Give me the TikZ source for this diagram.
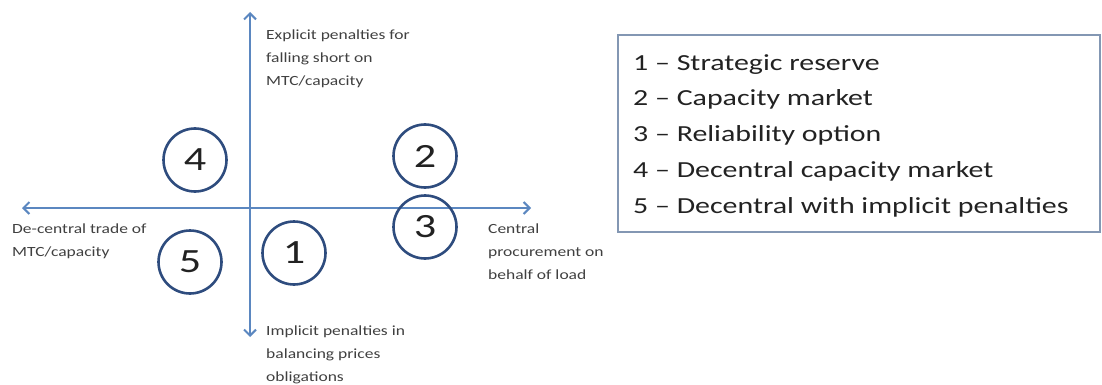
\documentclass[tikz,border=0pt]{standalone}
\usepackage{fontspec}
\setmainfont{Carlito}
\newfontfamily\widefont[FakeStretch=1.3,Ligatures=TeX]{Carlito}
\newfontfamily\labelfont[FakeStretch=1.25,Ligatures=TeX]{Carlito}
\usetikzlibrary{arrows.meta}
\definecolor{axisblue}{HTML}{5B87C0}
\definecolor{ringblue}{HTML}{2E4C7E}
\definecolor{boxgray}{HTML}{8397B3}
\definecolor{labelgray}{HTML}{404040}
\definecolor{itemblack}{HTML}{222222}
\begin{document}
\begin{tikzpicture}[x=1pt,y=-1pt,
  axis/.style={axisblue,line width=2pt,
    {Straight Barb[length=6pt,width=12pt]}-{Straight Barb[length=6pt,width=12pt]}},
  ring/.style={circle,draw=ringblue,line width=2.6pt,minimum size=63pt,inner sep=0pt,
    text=itemblack,font=\widefont\fontsize{34}{34}\selectfont},
  axislabel/.style={anchor=base west,align=left,inner sep=0pt,text=labelgray,
    font=\labelfont\fontsize{14}{23}\selectfont},
  legendbox/.style={draw=boxgray,line width=2pt,anchor=north west,inner sep=0pt,
    minimum width=482pt,minimum height=197pt},
  legendtext/.style={anchor=base west,align=left,inner sep=0pt,text=itemblack,
    font=\widefont\fontsize{23}{35.75}\selectfont}]
  \useasboundingbox (0,0) rectangle (1102,385);

  % axes
  \coordinate (west) at (22,208);
  \coordinate (east) at (531,208);
  \coordinate (north) at (250,12);
  \coordinate (south) at (250,337);
  \draw[axis] (west) -- (east);
  \draw[axis] (north) -- (south);

  % the five designs
  \foreach \n/\x/\y in {1/294/253,2/425/156,3/425/227,4/195/160,5/190/262}
    \node[ring] (c\n) at (\x,\y) {\n};

  % axis labels (anchored at the baseline of the last line)
  \node[axislabel] (explicit) at (266,86)
    {Explicit penalties for\\falling short on\\MTC/capacity};
  \node[axislabel] (implicit) at (266,381)
    {Implicit penalties in\\balancing prices\\obligations};
  \node[axislabel] (decentral) at (12,256)
    {De-central trade of\\MTC/capacity};
  \node[axislabel] (central) at (488,279)
    {Central\\procurement on\\behalf of load};

  % legend
  \node[legendbox] (legend) at (617,34) {};
  \node[legendtext] (items) at (633,213)
    {1 – Strategic reserve\\
     2 – Capacity market\\
     3 – Reliability option\\
     4 – Decentral capacity market\\
     5 – Decentral with implicit penalties};
\end{tikzpicture}
\end{document}
